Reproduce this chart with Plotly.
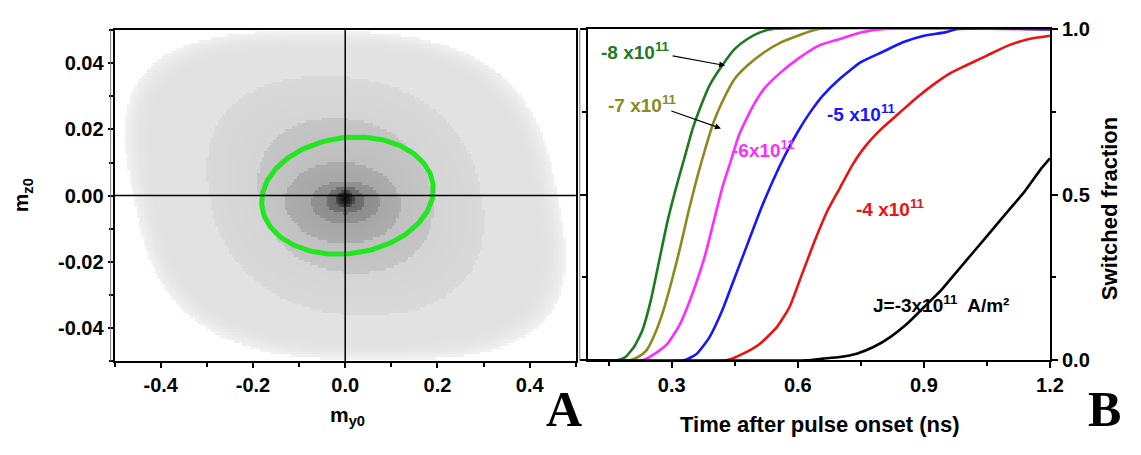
import numpy as np
import plotly.graph_objects as go

W, H = 1141, 455

# ---------------- Panel A data (ring map of switching times) ----------------
# rings listed outer -> inner, in units normalised to the axis half-ranges
ring_cu = [0.0, 0.0, 0.0, -0.01, 0.0, 0.0, 0.0]
ring_cw = [0.0, 0.0, 0.0, -0.045, -0.04, -0.03, -0.02]
ring_a = [0.92, 0.59, 0.375, 0.25, 0.15, 0.085, 0.04]
ring_b = [0.99, 0.72, 0.465, 0.245, 0.13, 0.08, 0.05]
ring_shear = [0.14, 0.12, 0.1, 0.05, 0.0, 0.0, 0.0]
ring_power = [3.0, 2.3, 2.2, 2.0, 2.0, 2.0, 2.0]
ring_gray = [226, 205, 185, 160, 134, 100, 20]

# green critical ellipse
ellipse_center = [0.005, 0.0]
ellipse_axes = [0.185, 0.0177]
ellipse_skew = 0.02

# ---------------- Panel B data (switched fraction) ----------------
t_m8 = [0.10, 0.17, 0.19, 0.21, 0.23, 0.25, 0.27, 0.29, 0.31, 0.33, 0.35, 0.37, 0.39, 0.42, 0.45, 0.48, 0.51, 0.54, 1.2]
f_m8 = [0, 0, 0.01, 0.04, 0.09, 0.18, 0.30, 0.42, 0.52, 0.61, 0.70, 0.77, 0.83, 0.89, 0.94, 0.97, 0.99, 1.0, 1.0]
t_m7 = [0.10, 0.20, 0.22, 0.24, 0.26, 0.28, 0.30, 0.32, 0.34, 0.36, 0.38, 0.40, 0.42, 0.45, 0.48, 0.52, 0.56, 0.60, 0.65, 1.2]
f_m7 = [0, 0, 0.01, 0.03, 0.08, 0.15, 0.24, 0.34, 0.45, 0.55, 0.64, 0.72, 0.78, 0.85, 0.89, 0.93, 0.96, 0.98, 1.0, 1.0]
t_m6 = [0.10, 0.23, 0.26, 0.29, 0.32, 0.34, 0.36, 0.38, 0.40, 0.42, 0.44, 0.46, 0.49, 0.52, 0.56, 0.60, 0.65, 0.70, 0.75, 0.80, 1.2]
f_m6 = [0, 0, 0.02, 0.05, 0.11, 0.17, 0.24, 0.32, 0.42, 0.52, 0.60, 0.68, 0.76, 0.82, 0.87, 0.91, 0.95, 0.97, 0.99, 1.0, 1.0]
t_m5 = [0.10, 0.33, 0.36, 0.39, 0.42, 0.45, 0.48, 0.51, 0.54, 0.57, 0.60, 0.63, 0.66, 0.70, 0.75, 0.80, 0.85, 0.90, 0.95, 0.98, 1.2]
f_m5 = [0, 0, 0.02, 0.07, 0.15, 0.25, 0.35, 0.45, 0.54, 0.62, 0.69, 0.75, 0.80, 0.85, 0.90, 0.93, 0.96, 0.98, 0.99, 1.0, 1.0]
t_m4 = [0.10, 0.43, 0.47, 0.51, 0.55, 0.58, 0.61, 0.64, 0.67, 0.70, 0.73, 0.76, 0.80, 0.84, 0.88, 0.92, 0.96, 1.00, 1.05, 1.10, 1.15, 1.20]
f_m4 = [0, 0, 0.02, 0.05, 0.10, 0.16, 0.26, 0.36, 0.45, 0.52, 0.59, 0.645, 0.70, 0.745, 0.79, 0.83, 0.865, 0.89, 0.92, 0.95, 0.97, 0.98]
t_m3 = [0.10, 0.62, 0.66, 0.70, 0.74, 0.78, 0.82, 0.86, 0.90, 0.94, 0.98, 1.02, 1.06, 1.10, 1.14, 1.18, 1.20]
f_m3 = [0, 0, 0.005, 0.01, 0.02, 0.04, 0.07, 0.11, 0.16, 0.21, 0.27, 0.33, 0.39, 0.45, 0.51, 0.58, 0.61]

series_t = [t_m8, t_m7, t_m6, t_m5, t_m4, t_m3]
series_f = [f_m8, f_m7, f_m6, f_m5, f_m4, f_m3]
series_colors = ["#1f7a1f", "#8a8a1e", "#ff2cff", "#1717ff", "#ee1111", "#000000"]

# ---------------- build ring map ----------------
nx, ny = 200, 120
xs = np.linspace(-0.5, 0.5, nx)
ys = np.linspace(-0.05, 0.05, ny)
U, Wn = np.meshgrid(xs / 0.5, ys / 0.05)
gray = np.full(U.shape, 255.0)
for k in range(len(ring_a)):
    uu = U - ring_cu[k] + ring_shear[k] * (Wn - ring_cw[k])
    ww = Wn - ring_cw[k]
    p = ring_power[k]
    r = (np.abs(uu / ring_a[k]) ** p + np.abs(ww / ring_b[k]) ** p) ** (1.0 / p)
    inside = r <= 1.0
    if k == 0:
        val = ring_gray[k] + 16 * np.clip((r - 0.88) / 0.12, 0, 1) ** 2
    elif k == len(ring_a) - 1:
        val = ring_gray[k] + 60 * r ** 2
    else:
        val = ring_gray[k] + 12 * r
    gray = np.where(inside, val, gray)

fig = go.Figure()
fig.add_trace(go.Heatmap(
    x=xs, y=ys, z=gray, zmin=0, zmax=255,
    colorscale=[[0, "rgb(0,0,0)"], [1, "rgb(255,255,255)"]],
    showscale=False, zsmooth=False, hoverinfo="skip",
    xaxis="x", yaxis="y"))

th = np.linspace(0, 2 * np.pi, 200)
ex = ellipse_center[0] + ellipse_axes[0] * np.cos(th) + ellipse_skew * np.sin(th)
ey = ellipse_center[1] + ellipse_axes[1] * np.sin(th)
fig.add_trace(go.Scatter(x=ex, y=ey, mode="lines",
                         line=dict(color="#22e622", width=5),
                         xaxis="x", yaxis="y", hoverinfo="skip"))

for t, f, c in zip(series_t, series_f, series_colors):
    fig.add_trace(go.Scatter(x=t, y=f, mode="lines",
                             line=dict(color=c, width=2.6, shape="spline", smoothing=0.5),
                             xaxis="x2", yaxis="y2", hoverinfo="skip"))

def px(x):
    return x / W

def py(y):
    return 1 - y / H

tickfont = dict(family="Liberation Sans", size=20, color="black", weight="bold")

fig.update_layout(
    width=W, height=H,
    margin=dict(l=0, r=0, t=0, b=0),
    paper_bgcolor="white", plot_bgcolor="white",
    showlegend=False,
    xaxis=dict(domain=[px(116), px(583)], range=[-0.5, 0.5], anchor="y",
               showgrid=False, zeroline=False, showline=True, mirror=True,
               linecolor="black", linewidth=2,
               ticks="outside", ticklen=5, tickwidth=1.5, tickcolor="black",
               tickvals=[-0.4, -0.2, 0.0, 0.2, 0.4],
               ticktext=["-0.4", "-0.2", "0.0", "0.2", "0.4"],
               minor=dict(dtick=0.1, tick0=0, ticks="outside", ticklen=4, tickcolor="black"),
               tickfont=tickfont),
    yaxis=dict(domain=[py(368), py(20)], range=[-0.05, 0.05], anchor="x",
               showgrid=False, zeroline=False, showline=True, mirror=True,
               linecolor="black", linewidth=2,
               ticks="outside", ticklen=5, tickwidth=1.5, tickcolor="black",
               tickvals=[-0.04, -0.02, 0.0, 0.02, 0.04],
               ticktext=["-0.04", "-0.02", "0.00", "0.02", "0.04"],
               minor=dict(dtick=0.01, tick0=0, ticks="outside", ticklen=4, tickcolor="black"),
               tickfont=tickfont),
    xaxis2=dict(domain=[px(595), px(1063)], range=[0.1, 1.2], anchor="y2",
                showgrid=False, zeroline=False, showline=True, mirror=True,
                linecolor="black", linewidth=2,
                ticks="outside", ticklen=6, tickwidth=1.5, tickcolor="black",
                tickvals=[0.3, 0.6, 0.9, 1.2], ticktext=["0.3", "0.6", "0.9", "1.2"],
                minor=dict(dtick=0.15, tick0=0, ticks="outside", ticklen=4, tickcolor="black"),
                tickfont=tickfont),
    yaxis2=dict(domain=[py(367), py(19)], range=[0, 1], anchor="x2", side="right",
                showgrid=False, zeroline=False, showline=True, mirror="ticks",
                linecolor="black", linewidth=2,
                ticks="outside", ticklen=6, tickwidth=1.5, tickcolor="black",
                tickvals=[0, 0.5, 1.0], ticktext=["0.0", "0.5", "1.0"],
                minor=dict(dtick=0.25, tick0=0, ticks="outside", ticklen=4, tickcolor="black"),
                tickfont=tickfont),
)

# crosshair lines in panel A
fig.add_shape(type="line", xref="x", yref="y domain", x0=0, x1=0, y0=0, y1=1,
              line=dict(color="black", width=1.5))
fig.add_shape(type="line", xref="x domain", yref="y", x0=0, x1=1, y0=0, y1=0,
              line=dict(color="black", width=1.5))
# thin second frame lines beside panel A
for xx in (112, 587):
    fig.add_shape(type="line", xref="paper", yref="paper", x0=px(xx), x1=px(xx),
                  y0=py(368), y1=py(20), line=dict(color="#777777", width=1))

def ann(text, x, y, size=18, color="black", family="Liberation Sans", bold=True, angle=0, **kw):
    fig.add_annotation(text=text, x=px(x), y=py(y), xref="paper", yref="paper",
                       showarrow=False, textangle=angle,
                       font=dict(family=family, size=size, color=color,
                                 weight="bold" if bold else "normal"),
                       xanchor="center", yanchor="middle", **kw)

ann("m<sub>z0</sub>", 22, 194, size=21, angle=-90)
ann("m<sub>y0</sub>", 352, 426, size=21)
ann("Switched fraction", 1124, 208, size=22, angle=-90)
ann("Time after pulse onset (ns)", 830, 435, size=22)
ann("A", 571, 418, size=50, family="Liberation Serif")
ann("B", 1118, 418, size=50, family="Liberation Serif")

ann("-8 x10<sup>11</sup>", 643, 42, size=19, color=series_colors[0])
ann("-7 x10<sup>11</sup>", 650, 98, size=19, color=series_colors[1])
ann("-6x10<sup>11</sup>", 773, 145, size=19, color=series_colors[2])
ann("-5 x10<sup>11</sup>", 872, 107, size=19, color=series_colors[3])
ann("-4 x10<sup>11</sup>", 902, 207, size=19, color=series_colors[4])
ann("J=-3x10<sup>11</sup>  A/m\u00b2", 953, 308, size=19, color="black")

# pointer arrows
fig.add_annotation(x=0.427, y=0.89, xref="x2", yref="y2", ax=-54, ay=-10,
                   showarrow=True, arrowhead=2, arrowsize=1, arrowwidth=1.2,
                   arrowcolor="black", text="")
fig.add_annotation(x=0.417, y=0.70, xref="x2", yref="y2", ax=-51, ay=-18,
                   showarrow=True, arrowhead=2, arrowsize=1, arrowwidth=1.2,
                   arrowcolor="black", text="")

fig.write_html("out.html")
